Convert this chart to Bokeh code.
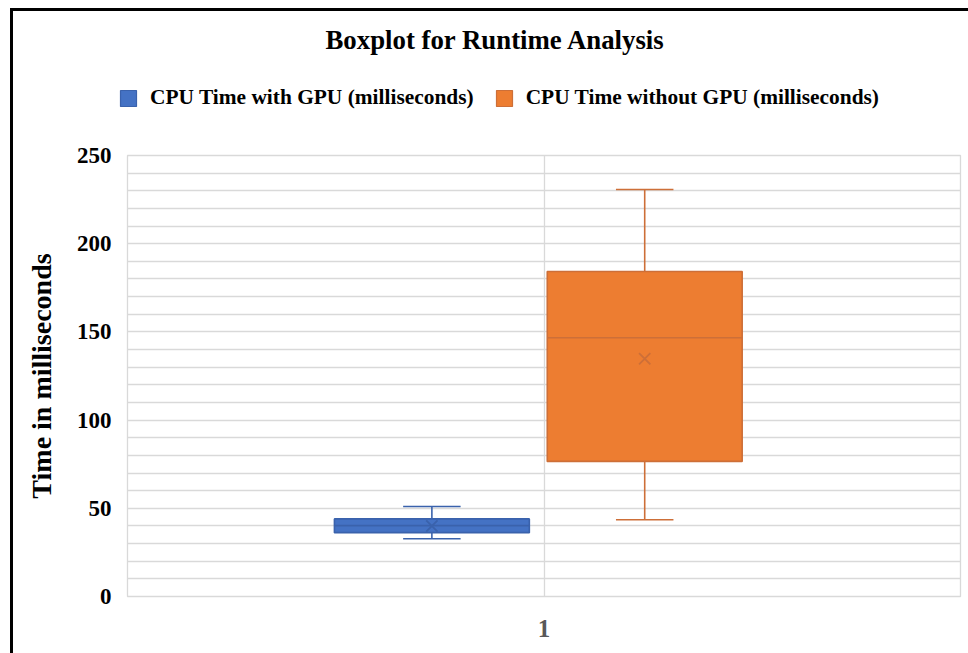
from bokeh.plotting import figure
from bokeh.layouts import column
from bokeh.models import Range1d, FixedTicker, Legend, LegendItem, ColumnDataSource
from bokeh.embed import file_html
from bokeh.resources import INLINE

# ---- data ----
series = ["CPU Time with GPU (milliseconds)", "CPU Time without GPU (milliseconds)"]
q1 = [36.2, 76.6]
median = [40.2, 146.7]
q3 = [44.0, 184.2]
mean = [40.0, 134.8]
whisker_low = [32.7, 43.5]
whisker_high = [51.0, 230.7]
category_labels = ["1"]
y_ticks = [0, 50, 100, 150, 200, 250]

# ---- style ----
fill_colors = ["#4472C4", "#ED7D31"]
line_colors = ["#3A62AC", "#CD6F38"]
offsets = [-0.1346, 0.1209]
box_w = 0.234
cap_w = 0.069
FONT = "Liberation Serif"

# ---------- header figure: title + legend ----------
top = figure(width=955, height=124, x_range=Range1d(0, 1), y_range=Range1d(0, 1),
             output_backend="svg", toolbar_location=None,
             x_axis_location=None, y_axis_location=None,
             min_border_left=0, min_border_right=0, min_border_top=48, min_border_bottom=0)
top.styles = {"margin-left": "-9px"}
top.border_fill_color = None
top.background_fill_color = None
top.grid.visible = False
top.outline_line_color = None
top.title.text = "Boxplot for Runtime Analysis"
top.title.text_font = FONT
top.title.text_font_size = "26.8px"
top.title.text_font_style = "bold"
top.title.text_color = "black"
top.title.align = "left"
top.title.offset = 207

# ---------- main figure ----------
p = figure(frame_width=833, frame_height=441,
           x_range=Range1d(0.5, 1.5), y_range=Range1d(0, 250),
           output_backend="svg", toolbar_location=None,
           min_border_left=114, min_border_right=8,
           min_border_top=20, min_border_bottom=57)
p.title.visible = False
p.border_fill_color = None

p.outline_line_color = "#D9D9D9"
p.outline_line_width = 1.3

p.ygrid.ticker = FixedTicker(ticks=list(range(0, 251, 10)))
p.xgrid.ticker = FixedTicker(ticks=[0.5, 1.0, 1.5])
for g in (p.xgrid, p.ygrid):
    g.grid_line_color = "#D9D9D9"
    g.grid_line_width = 1.3

p.yaxis.ticker = FixedTicker(ticks=y_ticks)
p.yaxis.axis_label = "Time in milliseconds"
p.yaxis.axis_label_text_font = FONT
p.yaxis.axis_label_text_font_size = "28px"
p.yaxis.axis_label_text_font_style = "bold"
p.yaxis.axis_label_text_color = "black"
p.yaxis.axis_label_standoff = 17
p.yaxis.major_label_standoff = 16
p.xaxis.ticker = FixedTicker(ticks=[1])
p.xaxis.major_label_overrides = {1: category_labels[0]}
p.xaxis.major_label_standoff = 23
for ax in (p.xaxis, p.yaxis):
    ax.axis_line_color = None
    ax.major_tick_line_color = None
    ax.minor_tick_line_color = None
    ax.major_tick_out = 0
    ax.minor_tick_out = 0
    ax.major_label_text_font = FONT
    ax.major_label_text_font_style = "bold"
p.yaxis.major_label_text_font_size = "23px"
p.xaxis.major_label_text_font_size = "25px"
p.yaxis.major_label_text_color = "black"
p.xaxis.major_label_text_color = "#595959"

items = []
for i, name in enumerate(series):
    x = 1 + offsets[i]
    src = ColumnDataSource(dict(
        x=[x], xl=[x - cap_w / 2], xr=[x + cap_w / 2],
        bl=[x - box_w / 2], br=[x + box_w / 2],
        q1=[q1[i]], q3=[q3[i]], med=[median[i]], mean=[mean[i]],
        lo=[whisker_low[i]], hi=[whisker_high[i]]))
    lc = line_colors[i]
    p.segment(x0="x", y0="q3", x1="x", y1="hi", source=src, line_color=lc, line_width=1.6)
    p.segment(x0="x", y0="lo", x1="x", y1="q1", source=src, line_color=lc, line_width=1.6)
    p.segment(x0="xl", y0="hi", x1="xr", y1="hi", source=src, line_color=lc, line_width=1.6)
    p.segment(x0="xl", y0="lo", x1="xr", y1="lo", source=src, line_color=lc, line_width=1.6)
    p.vbar(x="x", width=box_w, bottom="q1", top="q3", source=src,
           fill_color=fill_colors[i], line_color=lc, line_width=1.6)
    p.segment(x0="bl", y0="med", x1="br", y1="med", source=src, line_color=lc, line_width=1.6)
    p.scatter(x="x", y="mean", source=src, marker="x", size=16, line_color=lc, line_width=1.8)
    # legend swatch renderer in the header: same data & style, not drawn itself
    sw = top.vbar(x="x", width=box_w, bottom="q1", top="q3", source=src,
                  fill_color=fill_colors[i], line_color=lc, line_width=1.2, visible=False)
    items.append(LegendItem(label=name, renderers=[sw]))

legend = Legend(items=items, orientation="horizontal", location=(0, 25),
                glyph_width=20, glyph_height=20, label_standoff=12, spacing=20,
                padding=0, margin=0, border_line_color=None, background_fill_alpha=0,
                label_text_font=FONT, label_text_font_style="bold",
                label_text_font_size="21.4px", label_text_color="black")
top.add_layout(legend, "center")

layout = column(top, p, spacing=0)
layout.styles = {"margin-left": "10px", "margin-top": "8px",
                 "border-left": "3px solid black", "border-top": "3px solid black"}

open("out.html", "w").write(file_html(layout, INLINE))
